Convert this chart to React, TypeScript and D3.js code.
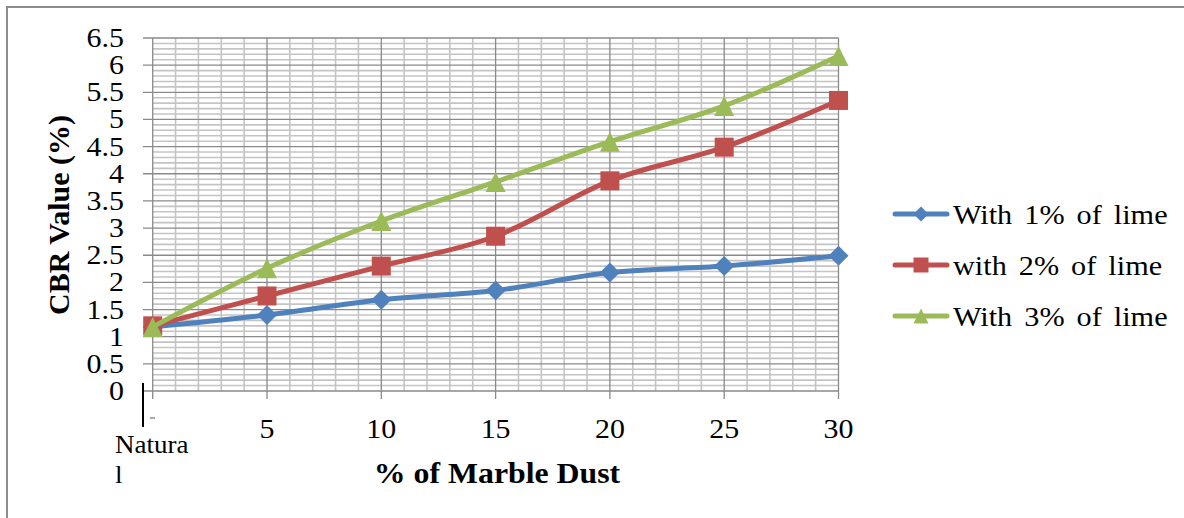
import React from "react";
import * as d3 from "d3";

const categories = ["Natural", "5", "10", "15", "20", "25", "30"];
const xValues = [0, 5, 10, 15, 20, 25, 30];
const yTicks = [0, 0.5, 1, 1.5, 2, 2.5, 3, 3.5, 4, 4.5, 5, 5.5, 6, 6.5];
const lime1 = [1.18, 1.4, 1.68, 1.85, 2.18, 2.3, 2.49];
const lime2 = [1.2, 1.75, 2.3, 2.85, 3.87, 4.49, 5.35];
const lime3 = [1.18, 2.26, 3.13, 3.85, 4.59, 5.25, 6.17];
const seriesNames = ["With 1% of lime", "with 2% of lime", "With 3% of lime"];
const seriesColors = ["#4f81bd", "#c0504d", "#9bbb59"];
const seriesMarkers = ["diamond", "square", "triangle"];

const W = 1184;
const H = 518;
const FONT = "'Liberation Serif', 'Times New Roman', serif";

function markerPath(type: string, s: number): string {
  const h = s / 2;
  if (type === "diamond") return `M0,${-h}L${h},0L0,${h}L${-h},0Z`;
  if (type === "square") return `M${-h},${-h}H${h}V${h}H${-h}Z`;
  return `M0,${-h}L${h},${h}L${-h},${h}Z`;
}

function T(props: {
  x: number;
  y: number;
  size: number;
  sx?: number;
  anchor?: string;
  bold?: boolean;
  ws?: number;
  children: React.ReactNode;
}) {
  const { x, y, size, sx = 1, anchor = "start", bold, ws, children } = props;
  return (
    <text
      transform={`translate(${x},${y}) scale(${sx},1)`}
      textAnchor={anchor}
      fontSize={size}
      fontWeight={bold ? "bold" : "normal"}
      wordSpacing={ws}
    >
      {children}
    </text>
  );
}

export default function App() {
  const x = d3.scaleLinear().domain([0, 30]).range([152.7, 838.5]);
  const y = d3.scaleLinear().domain([0, 6.5]).range([391, 38]);
  const minorX = d3.range(0, 31, 1).filter((v) => v % 5 !== 0);
  const minorY = d3.range(0, 66, 1).map((v) => v / 10).filter((v) => Math.round(v * 10) % 5 !== 0);
  const data = [lime1, lime2, lime3];
  const line = d3
    .line<number>()
    .x((_, i) => x(xValues[i]))
    .y((d) => y(d))
    .curve(d3.curveCatmullRom.alpha(0));

  const legendY = [214, 265, 316];

  return (
    <svg width={W} height={H} style={{ position: "absolute", left: 0, top: 0 }} fontFamily={FONT}>
      <rect x={0} y={0} width={W} height={H} fill="#fff" />
      <rect x={7} y={7} width={1400} height={700} fill="none" stroke="#8c8c8c" strokeWidth={2} />
      {/* minor gridlines */}
      {minorY.map((v) => (
        <line key={"my" + v} x1={x(0)} x2={x(30)} y1={y(v)} y2={y(v)} stroke="#c4c4c4" strokeWidth={1.6} />
      ))}
      {minorX.map((v) => (
        <line key={"mx" + v} x1={x(v)} x2={x(v)} y1={y(0)} y2={y(6.5)} stroke="#c4c4c4" strokeWidth={1.6} />
      ))}
      {/* major gridlines */}
      {yTicks.map((v) => (
        <line key={"gy" + v} x1={143} x2={x(30)} y1={y(v)} y2={y(v)} stroke="#8a8a8a" strokeWidth={1.3} />
      ))}
      {xValues.map((v) => (
        <line key={"gx" + v} x1={x(v)} x2={x(v)} y1={y(6.5)} y2={y(0) + 8} stroke="#8a8a8a" strokeWidth={1.3} />
      ))}
      {/* odd axis artifact */}
      <line x1={143} x2={143} y1={383} y2={427} stroke="#000" strokeWidth={2} />
      <line x1={150} x2={155} y1={418} y2={418} stroke="#555" strokeWidth={1} />
      {/* y tick labels */}
      {yTicks.map((v) => (
        <T key={"ty" + v} x={124} y={y(v) + 9} size={26.5} sx={1.13} anchor="end">
          {String(v)}
        </T>
      ))}
      {/* x tick labels */}
      {categories.map((c, i) =>
        i === 0 ? (
          <g key={"tx" + c}>
            <T x={115} y={453} size={25.5} sx={1.06}>Natura</T>
            <T x={115} y={483} size={25.5} sx={1.06}>l</T>
          </g>
        ) : (
          <T key={"tx" + c} x={x(xValues[i])} y={438} size={26.5} sx={1.13} anchor="middle">
            {c}
          </T>
        )
      )}
      {/* axis titles */}
      <T x={497} y={483} size={30} sx={1.06} anchor="middle" bold>
        % of Marble Dust
      </T>
      <text transform="translate(69,215) rotate(-90)" textAnchor="middle" fontSize={30} fontWeight="bold">
        CBR Value (%)
      </text>
      {/* series */}
      {data.map((s, k) => (
        <g key={"s" + k}>
          <path d={line(s) || ""} fill="none" stroke={seriesColors[k]} strokeWidth={5} strokeLinejoin="round" strokeLinecap="round" />
          {s.map((v, i) => (
            <path
              key={i}
              transform={`translate(${x(xValues[i])},${y(v)})`}
              d={markerPath(seriesMarkers[k], seriesMarkers[k] === "square" ? 19 : 20)}
              fill={seriesColors[k]}
            />
          ))}
        </g>
      ))}
      {/* legend */}
      {seriesNames.map((n, k) => (
        <g key={"l" + k} transform={`translate(0,${legendY[k]})`}>
          <line x1={895} x2={947} y1={0} y2={0} stroke={seriesColors[k]} strokeWidth={5} strokeLinecap="round" />
          <path transform="translate(921,0)" d={markerPath(seriesMarkers[k], 15)} fill={seriesColors[k]} />
          <T x={953} y={10} size={27} sx={1.12} ws={4}>
            {n}
          </T>
        </g>
      ))}
    </svg>
  );
}
